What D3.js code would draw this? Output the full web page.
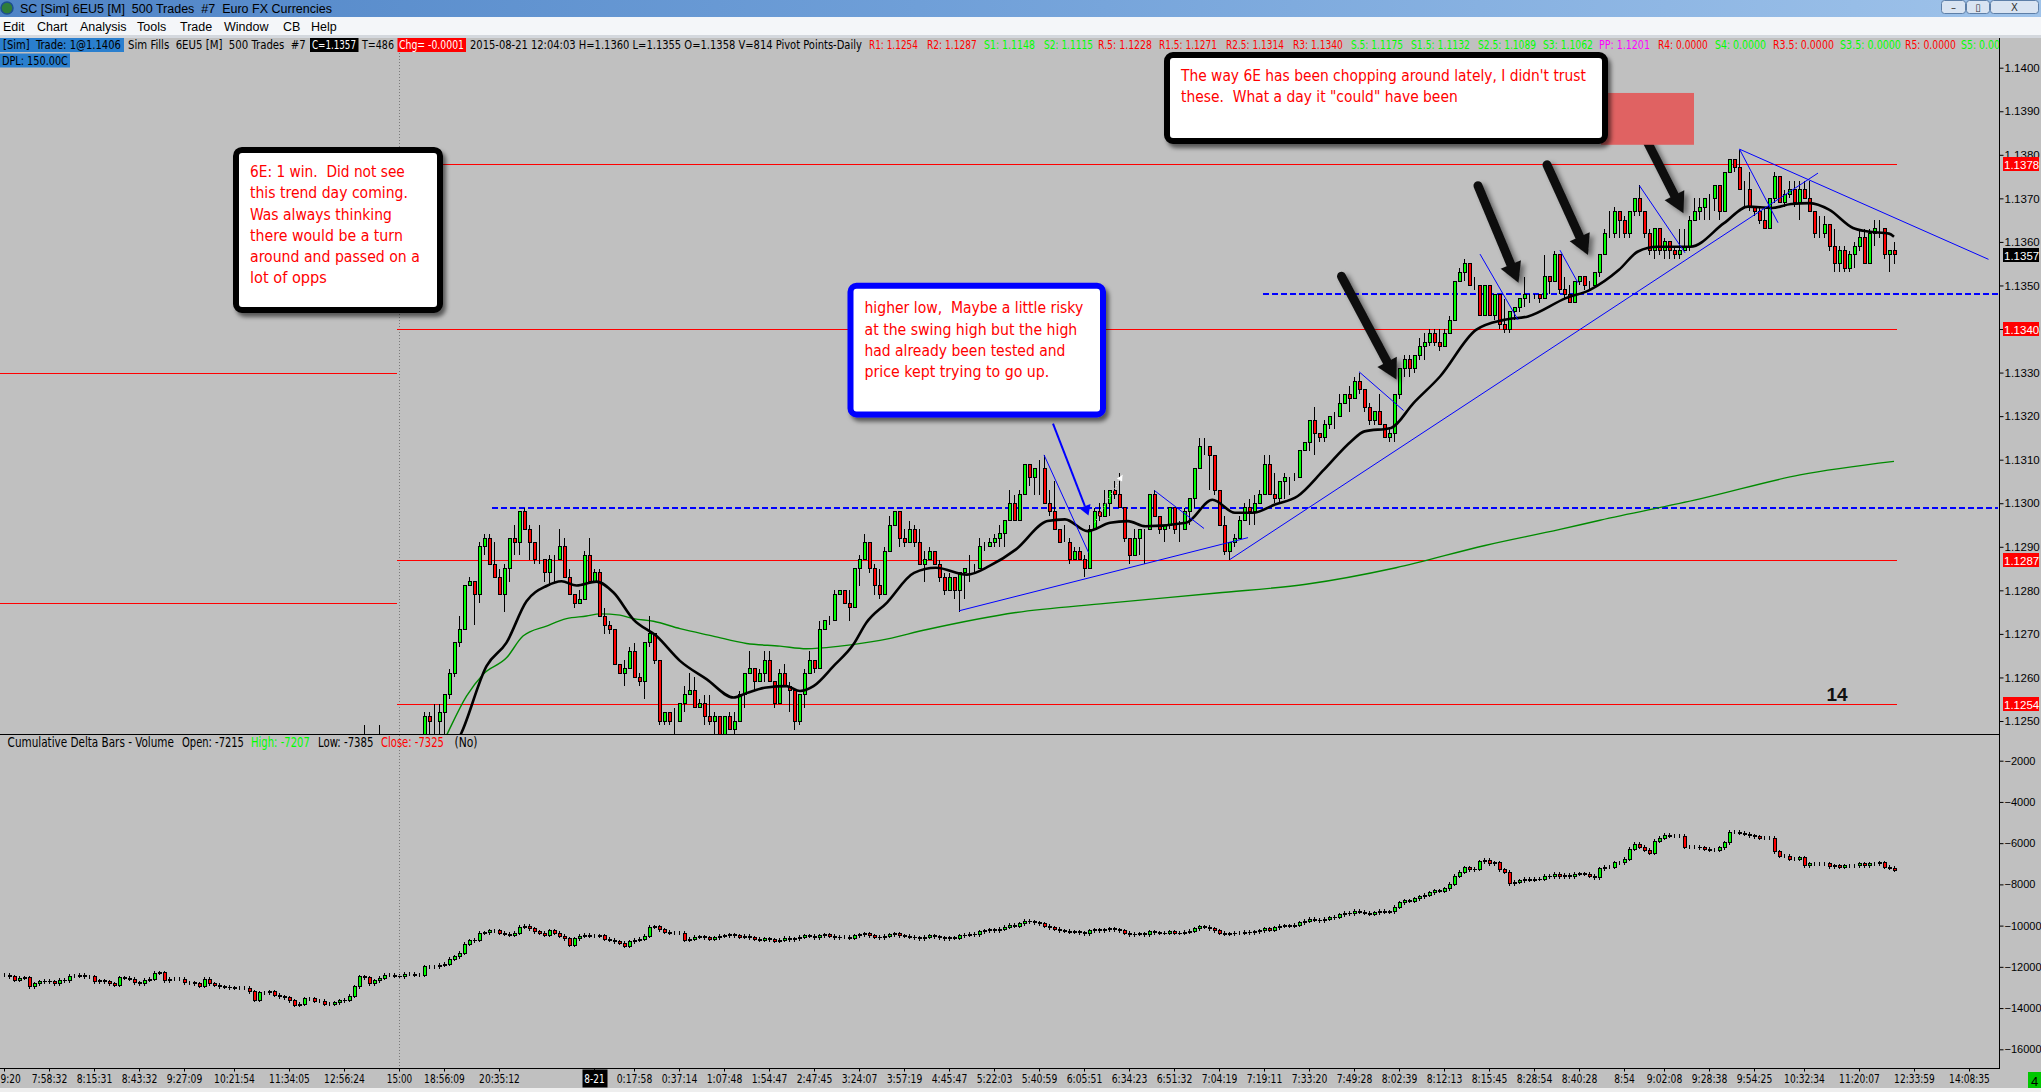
<!DOCTYPE html>
<html>
<head>
<meta charset="utf-8">
<script src="https://cdn.jsdelivr.net/npm/d3@7"></script>
<style>
  body { margin: 0; background: #c0c0c0; overflow: hidden; }
  text { white-space: pre; }
</style>
</head>
<body>
<svg id="chart"></svg>
<script>
// ---- price bars (pips above 1.1200), first bar index = 70, open = previous close
var firstBar = 70;
var closePips = [38,40,44,42,43,45,41,39,40,42,41,43,44,46,
  51,50,50,52,56,61,68,71,81,82,79,90,92,86,83,79,
  85,92,91,98,94,91,87,87,84,87,87,90,83,79,77,78,88,82,84,74,
  72,71,63,61,62,66,60,59,68,70,64,50,52,50,50,54,56,57,53,54,
  51,50,51,47,51,48,50,56,61,62,59,61,64,59,54,61,58,57,50,56,
  61,64,62,71,73,73,79,80,77,76,85,87,91,85,81,79,89,95,98,92,
  91,94,91,86,87,89,86,83,80,83,80,84,85,85,85,90,90,91,92,93,
  96,100,96,102,109,106,108,108,100,98,94,91,91,87,89,87,85,94,98,97,
  100,103,102,99,92,88,92,94,94,102,97,94,95,99,94,94,98,101,108,113,
  113,111,103,95,89,91,92,96,99,98,100,102,109,102,101,105,106,106,106,112,
  114,119,116,115,118,120,120,123,125,124,128,126,122,119,121,118,115,116,125,131,
  133,131,134,136,137,139,137,136,139,142,151,153,155,150,150,143,150,143,148,141,
  140,144,145,147,148,148,148,147,152,151,157,149,148,146,151,152,150,150,153,157,
  162,162,167,165,162,167,170,167,162,158,163,158,160,158,157,158,159,165,167,168,
  170,170,173,167,176,179,177,172,172,168,167,165,163,170,175,169,171,172,169,172,
  170,167,162,162,164,159,155,158,154,157,159,161,155,162,163,163,157,158,157];
var highPips = [41,42,49,44,45,49,46,42,42,44,43,45,46,47,
  52,52,54,54,56,62,68,74,81,83,82,91,93,93,91,85,
  86,92,95,98,99,95,91,95,87,88,88,94,92,85,79,80,89,92,85,85,
  76,73,71,63,64,67,68,61,68,74,70,64,52,52,53,54,58,61,60,55,
  56,56,52,51,51,52,52,57,61,66,62,62,66,66,59,62,63,59,57,56,
  62,66,64,73,73,74,80,80,80,80,85,88,93,91,86,85,90,97,98,98,
  94,96,95,94,89,90,89,87,84,84,83,84,85,88,86,92,91,92,93,95,
  96,103,102,103,109,109,108,110,111,103,105,94,95,92,90,90,88,95,99,100,
  103,103,105,107,99,92,94,94,94,102,103,97,95,99,99,96,99,101,108,115,
  115,113,111,103,97,91,93,97,100,101,102,103,111,111,107,105,107,106,107,112,
  114,119,122,116,119,120,121,125,125,127,129,130,126,123,121,125,118,117,125,131,
  134,134,134,138,139,140,140,140,140,143,151,154,156,155,152,150,150,150,148,148,
  147,144,145,147,152,148,148,148,157,152,158,157,152,150,151,152,152,151,153,157,
  163,167,168,167,166,167,170,173,167,163,163,163,161,160,159,163,163,166,170,170,
  170,171,173,173,176,179,179,181,174,176,168,168,168,170,176,175,172,174,174,174,
  174,174,167,166,166,164,163,159,159,158,160,163,163,163,165,165,163,158,160];
var lowPips = [35,37,39,40,40,41,39,37,37,39,39,40,42,43,
  44,47,47,47,47,55,60,67,71,81,72,77,88,86,83,79,
  75,82,88,88,94,87,86,86,82,81,82,87,83,79,76,77,78,82,82,74,
  70,70,63,61,58,62,60,58,55,67,63,49,49,49,47,50,52,56,53,53,
  49,49,47,47,47,48,47,50,53,61,57,59,59,59,53,54,58,52,48,49,
  53,61,61,62,71,72,73,79,77,73,76,81,87,84,79,78,79,89,95,90,
  90,91,90,86,82,87,86,82,79,80,78,75,78,82,84,85,89,90,90,90,
  90,96,96,96,102,104,102,102,100,97,94,91,91,86,87,87,83,85,94,96,
  97,97,101,99,91,86,88,88,86,94,97,93,91,94,93,91,94,95,99,108,
  111,103,102,95,88,87,90,92,96,95,95,100,102,102,100,100,101,102,105,106,
  112,112,111,114,114,117,117,120,123,121,124,125,121,118,118,118,115,114,114,124,
  129,129,130,133,133,136,136,135,136,139,142,151,151,150,149,143,143,143,142,140,
  139,139,142,144,145,146,147,146,147,148,151,148,147,146,146,150,149,149,150,152,
  157,161,161,161,161,161,166,166,161,157,156,157,156,156,156,156,158,158,165,165,
  165,165,167,165,167,176,176,172,168,167,166,164,163,163,169,169,168,170,168,165,
  170,167,161,161,161,158,153,153,153,153,154,158,155,155,159,161,156,153,155];

// ---- cumulative delta closes, bars 0..378
var deltaClose = [-12400,-12480,-12640,-12560,-12520,-12970,-12810,-12730,-12690,-12730,-12810,-12650,-12680,-12450,-12450,-12400,-12480,-12480,-12730,-12680,
  -12730,-12810,-12890,-12520,-12560,-12610,-12770,-12810,-12650,-12610,-12320,-12290,-12680,-12610,-12610,-12610,-12770,-12770,-12810,-12940,
  -12610,-12810,-12890,-12970,-13000,-13020,-13050,-13050,-13050,-13210,-13620,-13260,-13260,-13210,-13370,-13450,-13490,-13650,-13860,-13810,
  -13540,-13540,-13660,-13660,-13810,-13810,-13750,-13650,-13620,-13420,-12970,-12480,-12520,-12810,-12680,-12560,-12400,-12400,-12450,-12480,
  -12350,-12350,-12400,-12400,-12000,-12000,-12000,-11920,-11870,-11640,-11510,-11350,-10900,-10740,-10700,-10380,-10350,-10250,-10250,-10380,
  -10410,-10460,-10380,-10090,-10020,-10140,-10300,-10380,-10460,-10250,-10380,-10510,-10640,-10960,-10640,-10510,-10460,-10510,-10510,-10480,
  -10670,-10700,-10780,-10860,-10990,-10780,-10700,-10670,-10510,-10090,-10060,-10190,-10320,-10380,-10380,-10380,-10700,-10670,-10570,-10540,
  -10600,-10650,-10600,-10520,-10480,-10440,-10500,-10560,-10520,-10600,-10650,-10700,-10640,-10680,-10750,-10700,-10620,-10680,-10640,-10560,
  -10500,-10520,-10580,-10480,-10450,-10520,-10600,-10560,-10560,-10620,-10500,-10440,-10400,-10480,-10560,-10600,-10520,-10440,-10400,-10480,
  -10520,-10560,-10600,-10640,-10560,-10500,-10540,-10600,-10640,-10580,-10620,-10500,-10460,-10420,-10450,-10300,-10260,-10200,-10240,-10180,
  -10080,-9980,-10040,-9920,-9800,-9810,-9860,-9900,-10040,-10100,-10180,-10240,-10280,-10320,-10300,-10350,-10400,-10260,-10200,-10240,
  -10200,-10160,-10200,-10260,-10380,-10450,-10420,-10400,-10440,-10300,-10340,-10380,-10360,-10300,-10360,-10380,-10320,-10280,-10160,-10060,
  -10080,-10140,-10240,-10360,-10420,-10400,-10380,-10380,-10320,-10340,-10300,-10260,-10140,-10220,-10100,-10040,-10000,-10020,-9980,-9860,
  -9800,-9700,-9740,-9760,-9680,-9620,-9600,-9480,-9400,-9420,-9300,-9340,-9400,-9440,-9380,-9300,-9360,-9320,-9100,-8900,
  -8800,-8820,-8700,-8600,-8520,-8400,-8300,-8340,-8200,-8000,-7600,-7400,-7200,-7300,-7260,-6900,-6840,-7000,-6960,-7300,
  -7420,-7980,-7900,-7820,-7760,-7800,-7740,-7760,-7600,-7640,-7500,-7640,-7560,-7620,-7520,-7480,-7520,-7600,-7680,-7240,
  -7175,-7175,-6940,-6940,-6790,-6290,-6060,-6200,-6350,-6500,-5910,-5760,-5610,-5670,-5670,-5670,-6200,-6200,-6200,-6230,
  -6290,-6350,-6350,-6230,-5970,-5470,-5470,-5530,-5560,-5640,-5700,-5760,-5760,-5760,-6410,-6640,-6640,-6790,-6790,-6700,
  -7090,-7000,-7000,-7000,-7000,-7150,-7090,-7180,-7090,-7090,-7090,-7000,-7090,-7000,-7000,-6940,-7180,-7215,-7325];

// ---- moving averages: [bar, pips]
var maFast = [[88,40],[91.5,47.3],[96.5,62.6],[100.5,68],[104.5,77.5],[108.5,81],[111.5,82.1],[114.5,81.1],[118.5,82],[121.9,79.5],
  [125.9,73.3],[130.5,69.5],[135.2,63.8],[140.5,59.6],[145.9,55.4],[148.5,56.4],[152.5,57.7],[156.5,58],[159.2,56.9],[161.9,58],
  [165.9,62.6],[169.9,67.6],[172.5,72.6],[176.6,77.2],[182,84],[186.4,85.2],[192.6,83.6],[197.1,85.6],[202.4,89.4],[208.7,95.9],
  [212.2,96.3],[216.7,93.6],[221.2,95.5],[224.8,95.9],[228.3,94.7],[236.4,95.5],[241.7,100.8],[246.2,97.8],[249.8,97.8],[254.2,99.7],
  [258.7,101.6],[264,107.7],[269.4,114.2],[272.1,116.5],[277.4,117.3],[281.9,123],[287.2,129.1],[294.4,139.8],[300,142.1],[304.8,142.9],
  [312.4,147.1],[317.2,149],[323,153.6],[326.8,157.8],[330.6,158.9],[337.3,158.9],[344,164.3],[348.8,168.1],[353.6,167.8],[357.4,168.7],
  [361.2,168.9],[365,167.4],[369.8,163.2],[372.8,162.4],[377,161.9],[378,161.2]];
var maSlow = [[85,38],[88.8,47.4],[92.5,55.7],[95.8,60.7],[100.5,64.5],[103.8,69.5],[108.5,71.8],[112.5,73.5],[116.5,74.1],[119.2,74.6],
  [123.2,74.3],[125.9,73.5],[129.9,72.9],[135.2,71.2],[141.8,69.5],[148.5,67.8],[155.2,67.2],[160.5,66.6],[167.2,67.2],[175.2,68.5],
  [184.6,71],[202.4,74.9],[220.3,77],[242.6,79.4],[260.4,81.4],[278.4,85.2],[296.2,90.3],[311.2,94],[319.2,96.1],[339.2,101],
  [359.2,106.5],[378,109.6]];

// ---- levels
var pivotLevels = [1.1378, 1.1340, 1.1287, 1.1254];
var prevPivotLevels = [1.1330, 1.1277];
var lastPrice = 1.1357;
var dashLevels = [1.1348, 1.1299];
var dashStartBar = [251.8, 97.6];
var sessionBar = 79;

// ---- drawings: [bar1, pips1, bar2, pips2]
var trendLines = [[191,75.3,248.8,92.1],[245.2,87.1,362.8,175.8],[347.1,181.3,396.9,156],[271,130.2,279.9,121.3],
  [295.2,157.2,302.8,142.1],[311.2,158.1,314.8,150.6],[327.1,172.9,336.2,157.5],[347.1,181.3,354.8,164.4],
  [208,111.1,216.9,88.7],[230.1,102.9,240,94.2]];
var blackArrows = [[267.5,152.1,278.5,128.4],[294.8,172.9,302.9,150.6],[308.6,177.7,316.8,157],[326.8,187.2,335.9,166.6]];
var pointerArrow = [209.8,118.3,216.9,97.2];
var dottedArrow = [218.2,95.6,223.7,106.5];

// ---- axes
var priceTicks = [1.1250,1.1260,1.1270,1.1280,1.1290,1.1300,1.1310,1.1320,1.1330,1.1340,1.1350,1.1360,1.1370,1.1380,1.1390,1.1400];
var deltaTicks = [-2000,-4000,-6000,-8000,-10000,-12000,-14000,-16000];
var timeLabels = ["9:20","7:58:32","8:15:31","8:43:32","9:27:09","10:21:54","11:34:05","12:56:24","15:00","18:56:09","20:35:12",
  "8-21","0:17:58","0:37:14","1:07:48","1:54:47","2:47:45","3:24:07","3:57:19","4:45:47","5:22:03","5:40:59","6:05:51",
  "6:34:23","6:51:32","7:04:19","7:19:11","7:33:20","7:49:28","8:02:39","8:12:13","8:15:45","8:28:54","8:40:28","8:54",
  "9:02:08","9:28:38","9:54:25","10:32:34","11:20:07","12:33:59","14:08:35"];
var timeBars = [0,9,18,27,36,46,57,68,79,88,99,118,126,135,144,153,162,171,180,189,198,207,216,225,234,243,252,261,270,279,288,
  297,306,315,324,332,341,350,360,371,382,393];

// ---- notes
var note1Lines = ["6E: 1 win.  Did not see","this trend day coming.","Was always thinking","there would be a turn","around and passed on a","lot of opps"];
var note2Lines = ["higher low,  Maybe a little risky","at the swing high but the high","had already been tested and","price kept trying to go up."];
var note3Lines = ["The way 6E has been chopping around lately, I didn't trust","these.  What a day it \"could\" have been"];

var W = 2041, H = 1092;
var narrow = "'Liberation Sans Narrow','Arial Narrow','DejaVu Sans Condensed',sans-serif";
var svg = d3.select('#chart').attr('width', W).attr('height', H);

var slots = 394;
var x = d3.scaleLinear().domain([0, slots - 1]).range([4, 4 + 5 * (slots - 1)]);
var yP = d3.scaleLinear().domain([1.1250, 1.1400]).range([721, 67.7]);
var yD = d3.scaleLinear().domain([-16000, -2000]).range([1049.3, 760.7]);
function pip(v) { return 1.12 + v / 10000; }

// squeeze a text horizontally to a target width (condensed screen font look)
function squeeze(g, str, x0, y0, width, size, color, family) {
  var t = g.append('text').attr('x', 0).attr('y', 0).attr('font-family', family || narrow)
    .attr('font-size', size).attr('fill', color).text(str);
  var n = t.node().getComputedTextLength();
  t.attr('transform', 'translate(' + x0 + ',' + y0 + ') scale(' + (width / n) + ',1)');
  return t;
}

var defs = svg.append('defs');
defs.append('clipPath').attr('id', 'clipP').append('rect').attr('x', 0).attr('y', 38).attr('width', 1999).attr('height', 696);
defs.append('clipPath').attr('id', 'clipD').append('rect').attr('x', 0).attr('y', 735).attr('width', 1999).attr('height', 333);
defs.append('clipPath').attr('id', 'clipH').append('rect').attr('x', 0).attr('y', 36).attr('width', 1999).attr('height', 40);
var sh = defs.append('filter').attr('id', 'shadow').attr('x', '-10%').attr('y', '-10%').attr('width', '130%').attr('height', '130%');
sh.append('feDropShadow').attr('dx', 3).attr('dy', 4).attr('stdDeviation', 2).attr('flood-color', '#000').attr('flood-opacity', 0.55);
var ash = defs.append('filter').attr('id', 'ashadow').attr('x', '-50%').attr('y', '-50%').attr('width', '200%').attr('height', '200%');
ash.append('feDropShadow').attr('dx', 4).attr('dy', 3).attr('stdDeviation', 2.5).attr('flood-color', '#000').attr('flood-opacity', 0.45);
var tg = defs.append('linearGradient').attr('id', 'titleGrad').attr('x1', 0).attr('x2', 1).attr('y1', 0).attr('y2', 0);
tg.append('stop').attr('offset', '0%').attr('stop-color', '#4f84c6');
tg.append('stop').attr('offset', '45%').attr('stop-color', '#6f9fd8');
tg.append('stop').attr('offset', '100%').attr('stop-color', '#9fc3ea');

// ---- window chrome
svg.append('rect').attr('width', W).attr('height', H).attr('fill', '#c0c0c0');
svg.append('rect').attr('width', W).attr('height', 17).attr('fill', 'url(#titleGrad)');
svg.append('circle').attr('cx', 7).attr('cy', 8).attr('r', 6).attr('fill', '#2f7d3a').attr('stroke', '#1d4f8f').attr('stroke-width', 1.5);
svg.append('text').attr('x', 20).attr('y', 13).attr('font-family', "'Liberation Sans',sans-serif").attr('font-size', 12.5)
  .attr('fill', '#000').text('SC [Sim] 6EU5 [M]  500 Trades  #7  Euro FX Currencies');
var btns = [[1941, 25, '\u2013'], [1966, 24, '\u25af'], [1990, 49, 'X']];
btns.forEach(function (b) {
  svg.append('rect').attr('x', b[0] + 0.5).attr('y', 0.5).attr('width', b[1] - 1).attr('height', 13).attr('rx', 3)
    .attr('fill', '#d9e4f2').attr('stroke', '#5d7fa8');
  svg.append('text').attr('x', b[0] + b[1] / 2).attr('y', 11).attr('text-anchor', 'middle')
    .attr('font-family', "'DejaVu Sans',sans-serif").attr('font-size', 10).attr('fill', '#333').text(b[2]);
});
svg.append('rect').attr('y', 17).attr('width', W).attr('height', 19).attr('fill', '#f4f6f9');
svg.append('rect').attr('y', 35).attr('width', W).attr('height', 3).attr('fill', '#d4d8de');
var menus = [['Edit', 3], ['Chart', 37], ['Analysis', 80], ['Tools', 137], ['Trade', 180], ['Window', 224], ['CB', 283], ['Help', 311]];
menus.forEach(function (m) {
  svg.append('text').attr('x', m[1]).attr('y', 31).attr('font-family', "'Liberation Sans',sans-serif").attr('font-size', 12.5)
    .attr('fill', '#000').text(m[0]);
});

// ---- price panel
var pg = svg.append('g').attr('clip-path', 'url(#clipP)');
pg.append('line').attr('x1', x(sessionBar) + 0.5).attr('x2', x(sessionBar) + 0.5).attr('y1', 38).attr('y2', 734)
  .attr('stroke', '#7a7a7a').attr('stroke-dasharray', '1,2');
prevPivotLevels.forEach(function (v) {
  pg.append('line').attr('x1', 0).attr('x2', x(sessionBar) - 2).attr('y1', Math.round(yP(v)) + 0.5).attr('y2', Math.round(yP(v)) + 0.5)
    .attr('stroke', '#ff0000');
});
pivotLevels.forEach(function (v) {
  pg.append('line').attr('x1', x(sessionBar) - 2).attr('x2', x(378) + 3).attr('y1', Math.round(yP(v)) + 0.5).attr('y2', Math.round(yP(v)) + 0.5)
    .attr('stroke', '#ff0000');
});
dashLevels.forEach(function (v, k) {
  pg.append('line').attr('x1', x(dashStartBar[k])).attr('x2', 1998).attr('y1', Math.round(yP(v))).attr('y2', Math.round(yP(v)))
    .attr('stroke', '#0000ff').attr('stroke-width', 2).attr('stroke-dasharray', '6,3');
});

var line = d3.line().x(function (d) { return x(d[0]); }).y(function (d) { return yP(pip(d[1])); }).curve(d3.curveMonotoneX);
pg.append('path').attr('d', line(maSlow)).attr('fill', 'none').attr('stroke', '#008a00').attr('stroke-width', 1.4);

var candles = closePips.map(function (c, k) {
  var o = k ? closePips[k - 1] : c;
  return { i: firstBar + k, o: pip(o), c: pip(c), h: pip(highPips[k]), l: pip(lowPips[k]) };
});
var cg = pg.append('g').attr('shape-rendering', 'crispEdges');
cg.selectAll('line.wick').data(candles).enter().append('line').attr('class', 'wick')
  .attr('x1', function (d) { return x(d.i) + 0.5; }).attr('x2', function (d) { return x(d.i) + 0.5; })
  .attr('y1', function (d) { return yP(d.h); }).attr('y2', function (d) { return yP(d.l); })
  .attr('stroke', '#000');
cg.selectAll('rect.body').data(candles).enter().append('rect').attr('class', 'body')
  .attr('x', function (d) { return x(d.i) - 1; })
  .attr('width', 3)
  .attr('y', function (d) { return yP(Math.max(d.o, d.c)); })
  .attr('height', function (d) { return Math.abs(yP(d.o) - yP(d.c)); })
  .attr('fill', function (d) { return d.c > d.o ? '#00ff00' : (d.c < d.o ? '#ff0000' : '#000'); })
  .attr('stroke', '#000');

pg.append('path').attr('d', line(maFast)).attr('fill', 'none').attr('stroke', '#000').attr('stroke-width', 2.6);

trendLines.forEach(function (t) {
  pg.append('line').attr('x1', x(t[0])).attr('y1', yP(pip(t[1]))).attr('x2', x(t[2])).attr('y2', yP(pip(t[3])))
    .attr('stroke', '#0000ff').attr('stroke-width', 1);
});

function head(g, x1, y1, x2, y2, len, half, fill) {
  var a = Math.atan2(y2 - y1, x2 - x1);
  var bx = x2 - len * Math.cos(a), by = y2 - len * Math.sin(a);
  var px = -Math.sin(a) * half, py = Math.cos(a) * half;
  g.append('path').attr('d', 'M' + x2 + ',' + y2 + 'L' + (bx + px) + ',' + (by + py) + 'L' + (bx - px) + ',' + (by - py) + 'Z')
    .attr('fill', fill);
  return [bx, by];
}
// pointer arrow from note 2
(function () {
  var p = pointerArrow, g = pg.append('g');
  var x1 = x(p[0]), y1 = yP(pip(p[1])), x2 = x(p[2]), y2 = yP(pip(p[3]));
  var b = head(g, x1, y1, x2, y2, 10, 6, '#0000ff');
  g.append('line').attr('x1', x1).attr('y1', y1).attr('x2', b[0]).attr('y2', b[1]).attr('stroke', '#0000ff').attr('stroke-width', 2);
  var d = dottedArrow;
  var dx1 = x(d[0]), dy1 = yP(pip(d[1])), dx2 = x(d[2]), dy2 = yP(pip(d[3]));
  g.append('line').attr('x1', dx1).attr('y1', dy1).attr('x2', dx2).attr('y2', dy2).attr('stroke', '#fff').attr('stroke-dasharray', '1,2');
  head(g, dx1, dy1, dx2, dy2, 6, 3, '#fff');
})();
// thick black arrows
blackArrows.forEach(function (p) {
  var g = pg.append('g').attr('filter', 'url(#ashadow)');
  var x1 = x(p[0]), y1 = yP(pip(p[1])), x2 = x(p[2]), y2 = yP(pip(p[3]));
  var b = head(g, x1, y1, x2, y2, 20, 11, '#111');
  g.append('line').attr('x1', x1).attr('y1', y1).attr('x2', b[0]).attr('y2', b[1])
    .attr('stroke', '#111').attr('stroke-width', 9).attr('stroke-linecap', 'round');
});

pg.append('text').attr('x', x(366.6)).attr('y', yP(pip(54.7))).attr('text-anchor', 'middle')
  .attr('font-family', "'Liberation Sans',Arial,sans-serif").attr('font-weight', 'bold').attr('font-size', 19).attr('fill', '#111').text('14');

// ---- notes
function note(b0, b1, p0, p1, color, lines, lens, dy0) {
  var x0 = x(b0), x1 = x(b1), y0 = yP(pip(p0)), y1 = yP(pip(p1));
  var g = svg.append('g');
  g.append('rect').attr('x', x0 + 3).attr('y', y0 + 3).attr('width', x1 - x0 - 6).attr('height', y1 - y0 - 6).attr('rx', 6)
    .attr('fill', '#fff').attr('stroke', color).attr('stroke-width', 6).attr('filter', 'url(#shadow)');
  lines.forEach(function (s, k) {
    squeeze(g, s, x0 + 17, y0 + dy0 + k * 21.3, lens[k], 16.5, '#ff0000');
  });
}
svg.append('rect').attr('x', x(319.4)).attr('y', yP(pip(194.2))).attr('width', x(338) - x(319.4))
  .attr('height', yP(pip(182.3)) - yP(pip(194.2))).attr('fill', '#e06262');
note(45.8, 87.8, 181.8, 143.7, '#000', note1Lines, [155, 158, 142, 153, 170, 77], 30);
note(168.7, 220.4, 150.6, 119.7, '#0000ff', note2Lines, [219, 213, 201, 185], 30.5);
note(232, 320.8, 203.6, 182.5, '#000', note3Lines, [405, 277], 28.5);

// ---- header text
var hg = svg.append('g').attr('clip-path', 'url(#clipH)');
var hdr = [
  ['[Sim]  Trade: 1@1.1406', 3, 121, '#000', 0, 124, '#2a7fce', 49],
  ['Sim Fills  6EU5 [M]  500 Trades  #7', 128, 306, '#000', 0, 0, null, 49],
  ['C=1.1357', 312, 356, '#fff', 310, 358.5, '#000', 49],
  ['T=486', 362, 394, '#000', 0, 0, null, 49],
  ['Chg= -0.0001', 399, 464, '#fff', 397.5, 466, '#ff0000', 49],
  ['2015-08-21 12:04:03 H=1.1360 L=1.1355 O=1.1358 V=814 Pivot Points-Daily', 470, 862, '#000', 0, 0, null, 49],
  ['R1: 1.1254', 869, 918, '#ff0000'], ['R2: 1.1287', 927, 977, '#ff0000'], ['S1: 1.1148', 984, 1035, '#00ff00'],
  ['S2: 1.1115', 1044, 1093, '#00ff00'], ['R.5: 1.1228', 1098, 1152, '#ff0000'], ['R1.5: 1.1271', 1159, 1217, '#ff0000'],
  ['R2.5: 1.1314', 1226, 1284, '#ff0000'], ['R3: 1.1340', 1293, 1343, '#ff0000'], ['S.5: 1.1175', 1351, 1403, '#00ff00'],
  ['S1.5: 1.1132', 1411, 1470, '#00ff00'], ['S2.5: 1.1089', 1478, 1536, '#00ff00'], ['S3: 1.1062', 1543, 1593, '#00ff00'],
  ['PP: 1.1201', 1599, 1650, '#ff00ff'], ['R4: 0.0000', 1658, 1708, '#ff0000'], ['S4: 0.0000', 1715, 1766, '#00ff00'],
  ['R3.5: 0.0000', 1773, 1834, '#ff0000'], ['S3.5: 0.0000', 1840, 1901, '#00ff00'], ['R5: 0.0000', 1905, 1956, '#ff0000'],
  ['S5: 0.0000', 1961, 2012, '#00ff00'],
  ['DPL: 150.00C', 2, 68, '#000', 0, 70, '#2a7fce', 64.5]
];
hdr.forEach(function (h) {
  var base = h[7] || 49;
  if (h[6]) hg.append('rect').attr('x', h[4]).attr('y', base - 11).attr('width', h[5] - h[4]).attr('height', 14).attr('fill', h[6]);
  squeeze(hg, h[0], h[1], base, h[2] - h[1], 12.5, h[3]);
});

// ---- delta panel
var dg = svg.append('g').attr('clip-path', 'url(#clipD)').attr('shape-rendering', 'crispEdges');
var dbars = deltaClose.map(function (c, i) { return { i: i, o: i ? deltaClose[i - 1] : c, c: c }; });
dg.selectAll('line').data(dbars).enter().append('line')
  .attr('x1', function (d) { return x(d.i) + 0.5; }).attr('x2', function (d) { return x(d.i) + 0.5; })
  .attr('y1', function (d) { return yD(Math.max(d.o, d.c)) - 2; }).attr('y2', function (d) { return yD(Math.min(d.o, d.c)) + 2; })
  .attr('stroke', '#000');
dg.selectAll('rect').data(dbars).enter().append('rect')
  .attr('x', function (d) { return x(d.i) - 1; }).attr('width', 3)
  .attr('y', function (d) { return yD(Math.max(d.o, d.c)); })
  .attr('height', function (d) { return Math.abs(yD(d.o) - yD(d.c)); })
  .attr('fill', function (d) { return d.c > d.o ? '#00ff00' : (d.c < d.o ? '#ff0000' : '#000'); })
  .attr('stroke', '#000');
dg.append('line').attr('x1', x(sessionBar) + 0.5).attr('x2', x(sessionBar) + 0.5).attr('y1', 735).attr('y2', 1068)
  .attr('stroke', '#7a7a7a').attr('stroke-dasharray', '1,2');

var dh = [['Cumulative Delta Bars - Volume', 7.6, 174, '#000'], ['Open: -7215', 182, 244, '#000'], ['High: -7207', 251, 310, '#00ff00'],
  ['Low: -7385', 318, 373.5, '#000'], ['Close: -7325', 381, 444, '#ff0000'], ['(No)', 454.5, 477.5, '#000']];
var dhg = svg.append('g');
dh.forEach(function (h) { squeeze(dhg, h[0], h[1], 747, h[2] - h[1], 13.5, h[3]); });

// ---- frame lines
svg.append('line').attr('x1', 0).attr('x2', 1999).attr('y1', 734.5).attr('y2', 734.5).attr('stroke', '#000');
svg.append('line').attr('x1', 0).attr('x2', 1999).attr('y1', 1068.5).attr('y2', 1068.5).attr('stroke', '#000');
svg.append('line').attr('x1', 1999.5).attr('x2', 1999.5).attr('y1', 38).attr('y2', 1069).attr('stroke', '#000');

// ---- axes
function styleAxis(g, size) {
  g.select('.domain').remove();
  g.selectAll('text').attr('font-family', "'Liberation Sans',Arial,sans-serif").attr('font-size', size).attr('fill', '#000');
  g.selectAll('line').attr('stroke', '#000');
}
var ay = svg.append('g').attr('transform', 'translate(1999.5,0)')
  .call(d3.axisRight(yP).tickValues(priceTicks).tickFormat(d3.format('.4f')).tickSize(4).tickPadding(1));
styleAxis(ay, 11.5);
var ad = svg.append('g').attr('transform', 'translate(1999.5,0)')
  .call(d3.axisRight(yD).tickValues(deltaTicks).tickFormat(d3.format('d')).tickSize(4).tickPadding(1));
styleAxis(ad, 11);

var markers = pivotLevels.map(function (v) { return [v, '#ff0000']; }).concat([[lastPrice, '#000']]);
markers.forEach(function (m) {
  var yy = Math.round(yP(m[0]));
  svg.append('rect').attr('x', 2003).attr('y', yy - 7).attr('width', 36).attr('height', 14).attr('fill', m[1]);
  svg.append('text').attr('x', 2004).attr('y', yy + 4.5).attr('font-family', "'Liberation Sans',Arial,sans-serif").attr('font-size', 11.5)
    .attr('fill', '#fff').text(d3.format('.4f')(m[0]));
});

var ax = svg.append('g').attr('transform', 'translate(0,1068.5)')
  .call(d3.axisBottom(x).tickValues(timeBars).tickFormat(function (d, k) { return timeLabels[k]; }).tickSize(3).tickPadding(3));
ax.select('.domain').remove();
ax.selectAll('line').attr('stroke', '#000');
ax.selectAll('text').attr('font-family', narrow).attr('font-size', 12.5).attr('fill', '#000');
ax.selectAll('.tick').each(function (d, k) {
  var t = d3.select(this).select('text');
  var n = t.node().getComputedTextLength();
  var s = timeLabels[k].length * 5.1 / n;
  if (timeLabels[k] === '9:20') t.attr('text-anchor', 'start').attr('transform', 'translate(-4,0) scale(' + s + ',1)');
  else t.attr('transform', 'scale(' + s + ',1)');
  if (timeLabels[k] === '8-21') {
    d3.select(this).insert('rect', 'text').attr('x', -12).attr('y', 1).attr('width', 25).attr('height', 18).attr('fill', '#000');
    t.attr('fill', '#fff');
  }
});

svg.append('rect').attr('x', 2028).attr('y', 1072).attr('width', 13).attr('height', 17).attr('fill', '#00c800');
svg.append('text').attr('x', 2034.5).attr('y', 1086).attr('text-anchor', 'middle').attr('font-family', "'Liberation Sans',sans-serif")
  .attr('font-size', 13).attr('fill', '#000').text('4');
svg.append('rect').attr('y', 1088).attr('width', W).attr('height', 4).attr('fill', '#eeeeee');
</script>
</body>
</html>
